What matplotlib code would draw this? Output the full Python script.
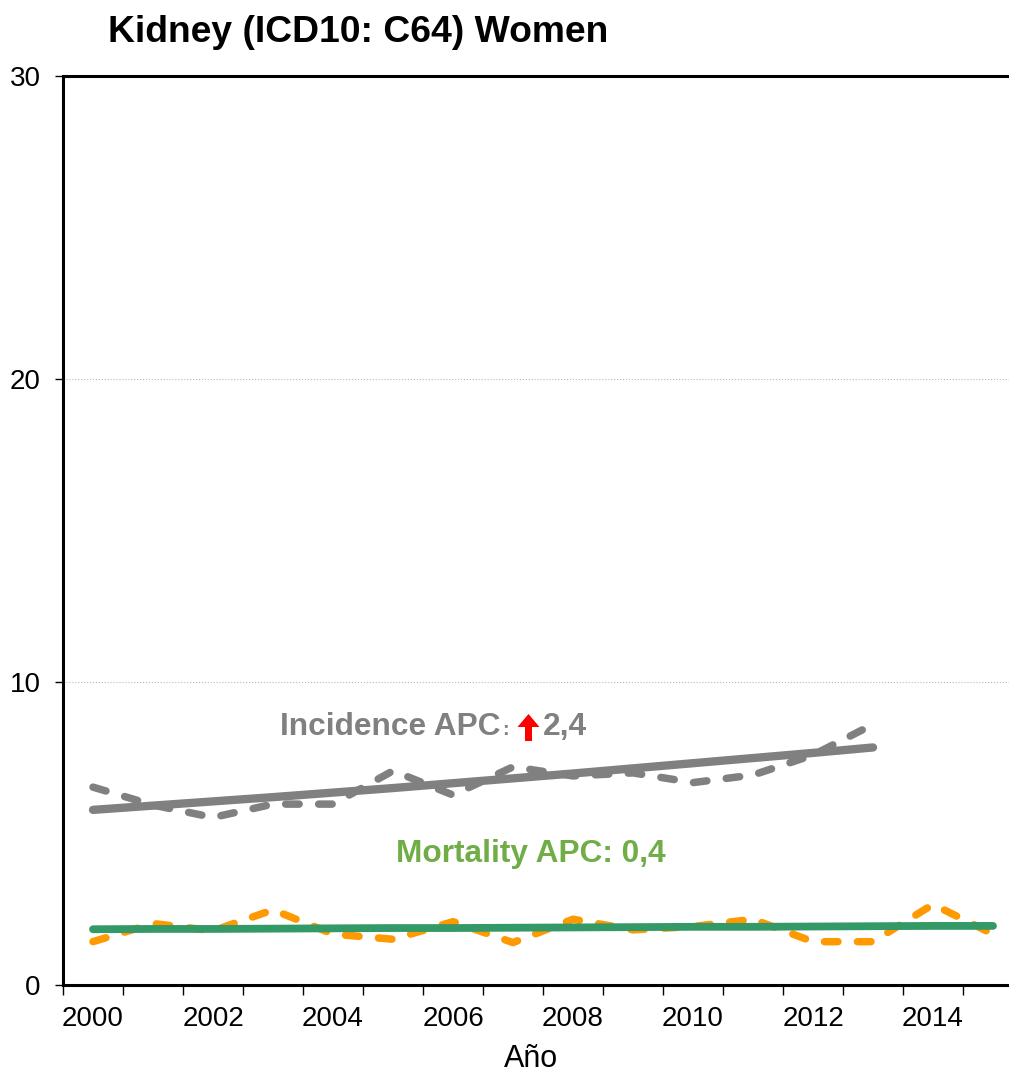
import matplotlib
matplotlib.use("Agg")
import matplotlib.pyplot as plt
from matplotlib.patches import FancyArrow
from matplotlib.transforms import IdentityTransform
import numpy as np

# incidence (age-standardised rate) and its APC trend, 2000-2013
inc_years = list(range(2000, 2014))
inc_rate = [6.53, 5.94, 5.53, 5.97, 5.97, 7.07, 6.27, 7.20,
            6.90, 7.00, 6.68, 6.93, 7.59, 8.60]
inc_trend = [5.78, 5.92, 6.06, 6.20, 6.35, 6.50, 6.66, 6.82,
             6.98, 7.15, 7.32, 7.49, 7.66, 7.84]

# mortality and its APC trend, 2000-2015
mort_years = list(range(2000, 2016))
mort_rate = [1.43, 2.03, 1.79, 2.48, 1.68, 1.51, 2.09, 1.40,
             2.17, 1.82, 1.93, 2.17, 1.43, 1.43, 2.66, 1.68]
mort_trend = [1.84, 1.85, 1.85, 1.86, 1.87, 1.88, 1.88, 1.89,
              1.90, 1.91, 1.92, 1.92, 1.93, 1.94, 1.95, 1.95]

inc_apc = "2,4"
mort_apc = "0,4"
year_labels = list(range(2000, 2016, 2))

GRAY = "#808080"
ORANGE = "#FF9900"
GREEN = "#339966"
GREEN_TXT = "#70AD47"
DASH = (0, (1.8, 2.6))

plt.rcParams["font.family"] = ["Liberation Sans", "DejaVu Sans"]

W, H = 1009, 1077
fig = plt.figure(figsize=(W / 100, H / 100), dpi=100)
ax = fig.add_axes([63 / W, 1 - 985 / H, 960 / W, 909 / H])

ax.plot(inc_years, inc_rate, color=GRAY, lw=5.4, ls=DASH,
        dash_capstyle="round", zorder=2)
ax.plot(inc_years, inc_trend, color=GRAY, lw=6.0,
        solid_capstyle="round", zorder=3)
ax.plot(mort_years, mort_rate, color=ORANGE, lw=5.4, ls=DASH,
        dash_capstyle="round", zorder=2)
ax.plot(mort_years, mort_trend, color=GREEN, lw=5.6,
        solid_capstyle="round", zorder=3)

ax.set_xlim(1999.5, 2015.5)
ax.set_ylim(0, 30)
ax.set_yticks([0, 10, 20, 30])
ax.set_xticks(np.arange(1999.5, 2016, 1.0))
ax.set_xticklabels([])
ax.set_xticks(year_labels, minor=True)
ax.set_xticklabels([str(y) for y in year_labels], minor=True)
ax.tick_params(axis="x", which="major", length=7, width=1.0, direction="out")
ax.tick_params(axis="x", which="minor", length=0, pad=15, labelsize=20)
ax.tick_params(axis="y", length=6, width=1.0, direction="out",
               pad=10, labelsize=20)

ax.yaxis.grid(True, color="#b8b8b8", linestyle=":", linewidth=0.8)
ax.set_axisbelow(True)
for side in ("left", "bottom", "top"):
    ax.spines[side].set_linewidth(2.2)
ax.spines["right"].set_visible(False)

ax.set_xlabel("Año", fontsize=22)
ax.xaxis.label.set_va("baseline")
ax.xaxis.set_label_coords((531 - 63) / 960, (985 - 1067) / 909)

fig.text(108 / W, 1 - 32 / H, "Kidney (ICD10: C64) Women",
         fontsize=26.8, fontweight="bold", va="center", ha="left")

# APC annotations
fig.text(280 / W, 1 - 735 / H, "Incidence APC", fontsize=22.8,
         fontweight="bold", color=GRAY, va="baseline")
fig.text(502 / W, 1 - 735 / H, ":", fontsize=14, fontweight="bold",
         color=GRAY, va="baseline")
fig.text(543 / W, 1 - 735 / H, inc_apc, fontsize=22.8,
         fontweight="bold", color=GRAY, va="baseline")
arrow = FancyArrow(528.5, H - 741, 0, 27, width=7, head_width=22,
                   head_length=13, length_includes_head=True,
                   color="#FF0000", lw=0, transform=IdentityTransform())
fig.add_artist(arrow)

fig.text(396 / W, 1 - 862 / H, f"Mortality APC: {mort_apc}", fontsize=22.8,
         fontweight="bold", color=GREEN_TXT, va="baseline")

fig.savefig("out.png", dpi=100)
